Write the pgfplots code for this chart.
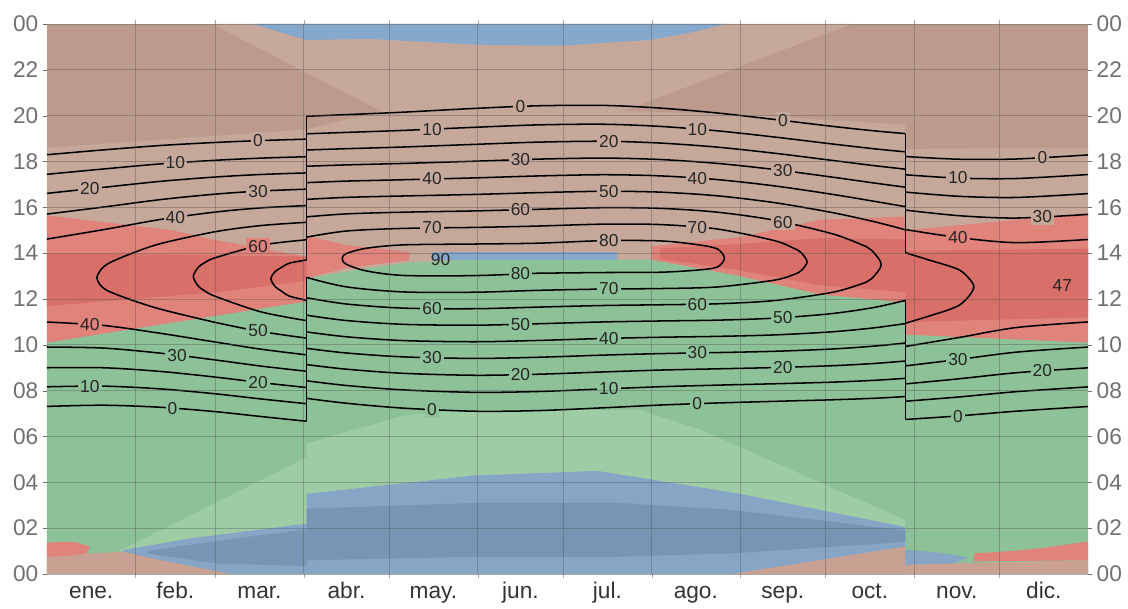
\documentclass[border=0pt]{standalone}
\usepackage{pgfplots}
\pgfplotsset{compat=1.18}
\usepackage{fontspec}
\setmainfont{Liberation Sans}
\definecolor{brD}{HTML}{BC9B8C}
\definecolor{brL}{HTML}{C6A89B}
\definecolor{brB}{HTML}{C9A192}
\definecolor{rdL}{HTML}{E0837A}
\definecolor{rdD}{HTML}{D86F68}
\definecolor{grD}{HTML}{8DC298}
\definecolor{grL}{HTML}{9ECDA5}
\definecolor{blL}{HTML}{87A6C6}
\definecolor{blD}{HTML}{7696B4}
\definecolor{blT}{HTML}{86A8CA}
\definecolor{gridc}{HTML}{555555}
\definecolor{tickc}{HTML}{707070}
\tikzset{lbl/.style={font=\fontsize{13}{13}\selectfont, text=black!85, inner sep=1.6pt}}
\pgfplotsset{cl/.style={black, line width=1.15pt, smooth}}
\begin{document}
\begin{tikzpicture}
\useasboundingbox (-35.25pt,-25.5pt) rectangle (810.75pt,430.5pt);
\begin{axis}[
  at={(0,0)}, anchor=south west,
  scale only axis, width=780.75pt, height=412.5pt,
  xmin=0, xmax=365, ymin=0, ymax=24,
  axis line style={draw=none},
  xtick={15.5,45,74.5,105,135.5,166,196.5,227.5,258,288.5,319,349.5},
  xticklabels={ene.,feb.,mar.,abr.,may.,jun.,jul.,ago.,sep.,oct.,nov.,dic.},
  minor xtick={31,59,90,120,151,181,212,243,273,304,334},
  xminorgrids=true, ymajorgrids=true,
  ytick={0,2,...,24},
  yticklabels={00,02,04,06,08,10,12,14,16,18,20,22,00},
  tick align=outside,
  major tick length=3pt, minor tick length=3pt,
  major x tick style={draw=none},
  minor x tick style={gridc, opacity=0.5},
  major y tick style={tickc},
  grid style={gridc, opacity=0.4, line width=0.6pt},
  minor grid style={gridc, opacity=0.4, line width=0.6pt},
  yticklabel style={font=\fontsize{17}{17}\selectfont, text=tickc},
  xticklabel style={font=\fontsize{17}{17}\selectfont, text=black!80, text height=12pt, text depth=3.5pt},
  axis on top,
]
% ---------- background ----------
\addplot[fill=brD, draw=none] coordinates {(0,0)(365,0)(365,24)(0,24)} -- cycle;
\addplot[fill=brL, draw=none] coordinates {(0,12)(0,18.6)(91,19.4)(117,20.2)(58,24)(282,24)(202,20.2)(243,20.05)(301,19.6)(301,18.55)(365,18.6)(365,12)} -- cycle;
\addplot[fill=grD, draw=none] coordinates {(0,0)(0,10.1)(91,11.9)(91,12.9)(110,13.3)(127,13.6)(150,13.72)(212,13.72)(243,13.0)(271,12.2)(301,11.85)(301,10.45)(365,10.1)(365,0)} -- cycle;
\addplot[fill=grL, draw=none] coordinates {(26,0)(26,1.05)(91,5.1)(91,5.7)(105,6.2)(125,6.9)(145,7.15)(208,7.15)(229,6.3)(301,2.35)(301,0)} -- cycle;
\addplot[fill=blL, draw=none] coordinates {(26.6,1.05)(50,1.55)(91,2.2)(91,3.5)(113,3.8)(150,4.3)(193,4.5)(243,3.5)(301,2.05)(301,0)(26.6,0)} -- cycle;
\addplot[fill=blD, draw=none] coordinates {(35,1.0)(60,1.45)(91,1.95)(91,2.85)(150,3.1)(200,3.1)(240,2.8)(301,1.9)(301,1.4)(240,0.9)(200,0.75)(150,0.75)(91,0.6)(91,0.35)(60,0.45)(35,0.9)} -- cycle;
\addplot[fill=brB, draw=none] coordinates {(0,0)(0,0.78)(26.6,0.97)(40,0.6)(58,0.15)(65,0)} -- cycle;
\addplot[fill=rdL, draw=none] coordinates {(0,0.75)(0,1.38)(10,1.4)(15,1.2)(14,0.9)(8,0.8)} -- cycle;
\addplot[fill=brB, draw=none] coordinates {(240,0)(301,1.2)(301,0)} -- cycle;
\addplot[fill=blL, draw=none] coordinates {(301,0.35)(301,1.05)(312,0.95)(323,0.72)(318,0.45)} -- cycle;
\addplot[fill=brB, draw=none] coordinates {(301,0)(301,0.4)(330,0.5)(365,0.6)(365,0)} -- cycle;
\addplot[fill=rdL, draw=none] coordinates {(325,0.55)(325,0.9)(338,1.0)(350,1.15)(365,1.42)(365,0.6)} -- cycle;
% red band
\addplot[fill=rdL, draw=none] coordinates {(0,10.1)(91,11.9)(91,13.85)(58,14.6)(44,15.0)(0,15.65)} -- cycle;
\addplot[fill=rdL, draw=none] coordinates {(91,12.9)(105,13.35)(127,13.7)(127,14.05)(105,14.35)(91,14.75)} -- cycle;
\addplot[fill=rdL, draw=none] coordinates {(212,13.72)(243,13.0)(271,12.2)(301,11.85)(301,15.6)(271,15.45)(243,14.7)(212,14.3)} -- cycle;
\addplot[fill=rdL, draw=none] coordinates {(301,10.45)(365,10.1)(365,15.75)(301,15.0)} -- cycle;
\addplot[fill=rdD, draw=none] coordinates {(0,11.7)(60,12.3)(91,12.8)(91,13.85)(0,14.0)} -- cycle;
\addplot[fill=rdD, draw=none] coordinates {(215,13.75)(243,13.25)(271,12.6)(301,12.3)(301,14.6)(271,14.65)(243,14.4)(215,14.2)} -- cycle;
\addplot[fill=rdD, draw=none] coordinates {(301,11.0)(365,11.2)(365,14.2)(301,14.1)} -- cycle;
\addplot[fill=blT, draw=none] coordinates {(135,13.72)(200,13.72)(200,14.05)(135,14.05)} -- cycle;
\addplot[fill=blT, draw=none] coordinates {(72,24)(91,23.3)(113,23.35)(150,23.1)(180,23.05)(211,23.3)(225,23.6)(238,24)} -- cycle;
% ---------- contours ----------
% 0
\addplot[cl] coordinates {(0,7.314)(20,7.365)(40,7.274)(59,7.085)(75,6.872)(91,6.665)};
\addplot[cl] coordinates {(91,7.665)(105,7.451)(125,7.237)(150,7.103)(172,7.130)(195,7.252)(215,7.373)(235,7.463)(255,7.534)(275,7.601)(290,7.668)(301,7.743)};
\addplot[cl] coordinates {(301,6.743)(320,6.902)(340,7.106)(365,7.309)};
\addplot[cl] coordinates {(0,18.296)(20,18.509)(40,18.700)(59,18.831)(75,18.914)(91,18.975)};
\addplot[cl] coordinates {(91,19.975)(105,20.045)(125,20.153)(150,20.317)(172,20.430)(195,20.448)(215,20.331)(235,20.117)(255,19.836)(275,19.539)(290,19.338)(301,19.217)};
\addplot[cl] coordinates {(301,18.217)(320,18.098)(340,18.110)(365,18.287)};
% 10
\addplot[cl] coordinates {(0,8.169)(20,8.198)(40,8.076)(59,7.863)(75,7.639)(91,7.431)};
\addplot[cl] coordinates {(91,8.431)(105,8.226)(125,8.033)(150,7.927)(172,7.963)(195,8.074)(215,8.172)(235,8.241)(255,8.301)(275,8.370)(290,8.451)(301,8.539)};
\addplot[cl] coordinates {(301,7.539)(320,7.728)(340,7.958)(365,8.165)};
\addplot[cl] coordinates {(0,17.441)(20,17.676)(40,17.898)(59,18.053)(75,18.147)(91,18.209)};
\addplot[cl] coordinates {(91,19.209)(105,19.270)(125,19.357)(150,19.493)(172,19.597)(195,19.626)(215,19.532)(235,19.339)(255,19.069)(275,18.770)(290,18.555)(301,18.421)};
\addplot[cl] coordinates {(301,17.421)(320,17.272)(340,17.258)(365,17.431)};
% 20
\addplot[cl] coordinates {(0,9.000)(20,8.999)(40,8.837)(59,8.593)(75,8.352)(91,8.138)};
\addplot[cl] coordinates {(91,9.138)(105,8.937)(125,8.757)(150,8.672)(172,8.716)(195,8.817)(215,8.899)(235,8.953)(255,9.008)(275,9.087)(290,9.186)(301,9.295)};
\addplot[cl] coordinates {(301,8.295)(320,8.521)(340,8.784)(365,8.997)};
\addplot[cl] coordinates {(0,16.610)(20,16.875)(40,17.137)(59,17.323)(75,17.434)(91,17.502)};
\addplot[cl] coordinates {(91,18.502)(105,18.559)(125,18.633)(150,18.748)(172,18.844)(195,18.883)(215,18.805)(235,18.627)(255,18.362)(275,18.053)(290,17.820)(301,17.665)};
\addplot[cl] coordinates {(301,16.665)(320,16.479)(340,16.432)(365,16.599)};
% 30
\addplot[cl] coordinates {(0,9.905)(20,9.858)(40,9.633)(59,9.340)(75,9.073)(91,8.847)};
\addplot[cl] coordinates {(91,9.847)(105,9.644)(125,9.474)(150,9.407)(172,9.457)(195,9.551)(215,9.617)(235,9.662)(255,9.718)(275,9.816)(290,9.944)(301,10.082)};
\addplot[cl] coordinates {(301,9.082)(320,9.367)(340,9.683)(365,9.904)};
\addplot[cl] coordinates {(0,15.705)(20,16.016)(40,16.341)(59,16.576)(75,16.713)(91,16.793)};
\addplot[cl] coordinates {(91,17.793)(105,17.852)(125,17.916)(150,18.013)(172,18.103)(195,18.149)(215,18.087)(235,17.918)(255,17.652)(275,17.324)(290,17.062)(301,16.878)};
\addplot[cl] coordinates {(301,15.878)(320,15.633)(340,15.533)(365,15.692)};
% 40
\addplot[cl] coordinates {(0,10.995)(20,10.844)(40,10.498)(59,10.123)(75,9.810)(91,9.563)};
\addplot[cl] coordinates {(91,10.563)(105,10.351)(125,10.186)(150,10.135)(172,10.191)(195,10.277)(215,10.331)(235,10.369)(255,10.433)(275,10.566)(290,10.742)(301,10.930)};
\addplot[cl] coordinates {(301,9.930)(320,10.324)(340,10.757)(365,10.999)};
\addplot[cl] coordinates {(0,14.615)(20,15.030)(40,15.476)(59,15.793)(75,15.976)(91,16.077)};
\addplot[cl] coordinates {(91,17.077)(105,17.145)(125,17.204)(150,17.285)(172,17.369)(195,17.423)(215,17.373)(235,17.211)(255,16.937)(275,16.574)(290,16.264)(301,16.030)};
\addplot[cl] coordinates {(301,15.030)(320,14.676)(340,14.459)(365,14.597)};
% 50
\addplot[cl] coordinates {(91,10.293)(75,10.581)(59,10.979)(40,11.550)(30,11.941)(22,12.317)(19,12.565)(17.5,12.92)(19,13.295)(22,13.583)(30,14.003)(40,14.424)(59,14.937)(75,15.205)(91,15.347)};
\addplot[cl] coordinates {(91,11.293)(105,11.061)(125,10.894)(150,10.857)(172,10.920)(195,10.999)(215,11.041)(235,11.077)(255,11.164)(275,11.361)(290,11.631)(301,11.941)};
\addplot[cl] coordinates {(301,10.941)(310,11.283)(316,11.523)(320,11.741)(323,12.084)(325,12.53)(323,12.942)(320,13.259)(316,13.451)(310,13.673)(301,14.019)};
\addplot[cl] coordinates {(91,16.347)(105,16.435)(125,16.496)(150,16.563)(172,16.640)(195,16.701)(215,16.663)(235,16.503)(255,16.206)(275,15.779)(290,15.375)(301,15.019)};
% 60
\addplot[cl] coordinates {(91,11.056)(75,11.439)(59,12.117)(55,12.379)(53,12.571)(51.3,12.98)(53,13.379)(55,13.561)(59,13.799)(75,14.347)(91,14.584)};
\addplot[cl] coordinates {(91,12.056)(105,11.781)(125,11.602)(150,11.576)(172,11.646)(195,11.716)(215,11.748)(235,11.791)(255,11.931)(275,12.282)(285,12.636)(289,12.875)(292.5,13.50)(289,14.139)(285,14.404)(275,14.858)(255,15.439)(235,15.789)(215,15.956)(195,15.984)(172,15.914)(150,15.844)(125,15.788)(105,15.715)(91,15.584)};
% 70
\addplot[cl] coordinates {(91,11.940)(85,12.126)(82,12.361)(80,12.541)(78.5,12.88)(80,13.199)(82,13.359)(85,13.564)(91,13.700)};
\addplot[cl] coordinates {(91,12.940)(105,12.529)(125,12.309)(150,12.296)(172,12.377)(195,12.434)(215,12.456)(235,12.525)(255,12.822)(262,13.076)(264.5,13.248)(266.5,13.62)(264.5,14.012)(262,14.204)(255,14.548)(235,15.055)(215,15.248)(195,15.266)(172,15.183)(150,15.124)(125,15.081)(105,14.967)(91,14.700)};
% 80
\addplot[cl] coordinates {(172,13.125)(195,13.155)(215,13.168)(228,13.262)(235,13.393)(237.5,13.78)(235,14.187)(228,14.372)(215,14.536)(195,14.545)(172,14.435)(150,14.399)(125,14.362)(112,14.215)(105,13.983)(103.5,13.76)(105,13.513)(112,13.225)(125,13.028)(150,13.021)(172,13.125)};
% DST jumps
\addplot[black, line width=1.15pt] coordinates {(91,6.665)(91,12.940)};
\addplot[black, line width=1.15pt] coordinates {(91,13.700)(91,19.975)};
\addplot[black, line width=1.15pt] coordinates {(301,6.743)(301,11.941)};
\addplot[black, line width=1.15pt] coordinates {(301,14.019)(301,19.217)};
% ---------- contour labels ----------
\node[lbl, fill=brL] at (axis cs:74,18.91) {0};
\node[lbl, fill=brL] at (axis cs:45,17.94) {10};
\node[lbl, fill=brL] at (axis cs:15,16.81) {20};
\node[lbl, fill=brL] at (axis cs:74,16.70) {30};
\node[lbl, fill=brL] at (axis cs:45,15.56) {40};
\node[lbl, fill=rdL] at (axis cs:74,14.31) {60};
\node[lbl, fill=rdL] at (axis cs:15,10.88) {40};
\node[lbl, fill=grD] at (axis cs:45.6,9.55) {30};
\node[lbl, fill=grD] at (axis cs:74,10.61) {50};
\node[lbl, fill=grD] at (axis cs:15,8.19) {10};
\node[lbl, fill=grD] at (axis cs:74,8.37) {20};
\node[lbl, fill=grD] at (axis cs:44,7.23) {0};
\node[lbl, fill=brL] at (axis cs:166,20.40) {0};
\node[lbl, fill=brL] at (axis cs:135,19.41) {10};
\node[lbl, fill=brL] at (axis cs:228,19.41) {10};
\node[lbl, fill=brL] at (axis cs:197,18.88) {20};
\node[lbl, fill=brL] at (axis cs:166,18.08) {30};
\node[lbl, fill=brL] at (axis cs:135,17.24) {40};
\node[lbl, fill=brL] at (axis cs:228,17.27) {40};
\node[lbl, fill=brL] at (axis cs:197,16.70) {50};
\node[lbl, fill=brL] at (axis cs:166,15.89) {60};
\node[lbl, fill=brL] at (axis cs:135,15.10) {70};
\node[lbl, fill=brL] at (axis cs:228,15.12) {70};
\node[lbl, fill=brL] at (axis cs:197,14.545) {80};
\node[lbl] at (axis cs:138,13.72) {90};
\node[lbl, fill=grD] at (axis cs:166,13.10) {80};
\node[lbl, fill=grD] at (axis cs:197,12.436) {70};
\node[lbl, fill=grD] at (axis cs:135,11.59) {60};
\node[lbl, fill=grD] at (axis cs:228,11.78) {60};
\node[lbl, fill=grD] at (axis cs:166,10.90) {50};
\node[lbl, fill=grD] at (axis cs:197,10.28) {40};
\node[lbl, fill=grD] at (axis cs:135,9.45) {30};
\node[lbl, fill=grD] at (axis cs:228,9.65) {30};
\node[lbl, fill=grD] at (axis cs:166,8.70) {20};
\node[lbl, fill=grD] at (axis cs:197,8.08) {10};
\node[lbl, fill=grD] at (axis cs:135,7.18) {0};
\node[lbl, fill=grD] at (axis cs:228,7.43) {0};
\node[lbl, fill=brL] at (axis cs:258,19.79) {0};
\node[lbl, fill=brL] at (axis cs:258,17.60) {30};
\node[lbl, fill=brL] at (axis cs:258,15.35) {60};
\node[lbl, fill=grD] at (axis cs:258,11.19) {50};
\node[lbl, fill=grD] at (axis cs:258,9.02) {20};
\node[lbl, fill=brL] at (axis cs:319.4,17.28) {10};
\node[lbl, fill=brL] at (axis cs:349,18.17) {0};
\node[lbl, fill=rdL] at (axis cs:319.4,14.69) {40};
\node[lbl, fill=brL] at (axis cs:349,15.59) {30};
\node[lbl] at (axis cs:356,12.6) {47};
\node[lbl, fill=grD] at (axis cs:319.4,9.36) {30};
\node[lbl, fill=grD] at (axis cs:349,8.86) {20};
\node[lbl, fill=grD] at (axis cs:319.4,6.89) {0};
\end{axis}
\begin{axis}[
  at={(0,0)}, anchor=south west,
  scale only axis, width=780.75pt, height=412.5pt,
  xmin=0, xmax=365, ymin=0, ymax=24,
  axis line style={draw=none},
  xtick=\empty,
  ytick={0,2,...,24},
  yticklabels={00,02,04,06,08,10,12,14,16,18,20,22,00},
  yticklabel pos=right,
  tick align=outside, major tick length=3pt,
  major y tick style={tickc},
  yticklabel style={font=\fontsize{17}{17}\selectfont, text=tickc},
]
\addplot[draw=none] coordinates {(0,0)(365,24)};
\end{axis}
\end{tikzpicture}
\end{document}
